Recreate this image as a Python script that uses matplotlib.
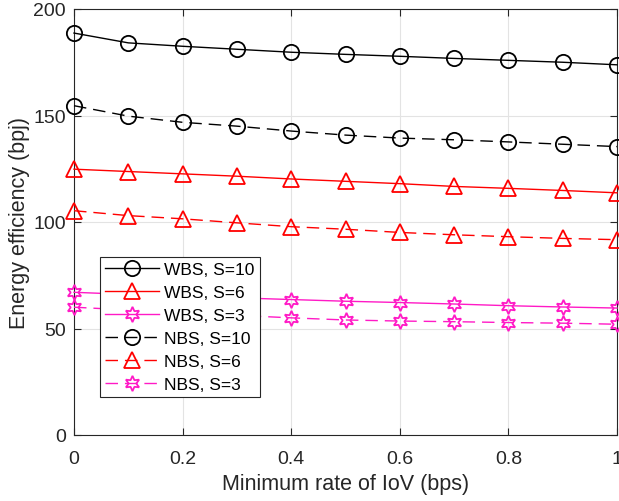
import numpy as np
import matplotlib
matplotlib.use("Agg")
import matplotlib.pyplot as plt

plt.rcParams['font.family'] = ['Liberation Sans', 'DejaVu Sans']

# data
rate = [0, 0.1, 0.2, 0.3, 0.4, 0.5, 0.6, 0.7, 0.8, 0.9, 1.0]
wbs_s10 = [188.7, 184.1, 182.5, 181.1, 179.7, 178.7, 177.8, 176.8, 175.9, 175.0, 173.8]
wbs_s6 = [124.8, 123.7, 122.6, 121.5, 120.2, 119.1, 118.0, 116.7, 115.8, 114.8, 113.7]
wbs_s3 = [67.0, 66.0, 65.1, 64.4, 63.6, 62.8, 62.2, 61.5, 60.7, 60.1, 59.6]
nbs_s10 = [154.6, 149.7, 146.8, 145.0, 142.7, 140.8, 139.4, 138.6, 137.6, 136.5, 135.4]
nbs_s6 = [105.3, 103.0, 101.5, 99.6, 97.8, 96.6, 95.1, 94.0, 93.1, 92.3, 91.7]
nbs_s3 = [60.0, 58.7, 57.5, 56.2, 55.0, 54.0, 53.5, 53.2, 52.8, 52.5, 52.0]

labels = ["WBS, S=10", "WBS, S=6", "WBS, S=3", "NBS, S=10", "NBS, S=6", "NBS, S=3"]

pink = '#FF1AC6'
star = (6, 1, 0)

fig = plt.figure(figsize=(6.19, 5.02), dpi=100)
ax = fig.add_axes([74 / 619, 66 / 502, 543 / 619, 426 / 502])

series = [
    (wbs_s10, 'k', 'o', '-'),
    (wbs_s6, 'r', '^', '-'),
    (wbs_s3, pink, star, '-'),
    (nbs_s10, 'k', 'o', '--'),
    (nbs_s6, 'r', '^', '--'),
    (nbs_s3, pink, star, '--'),
]
for (vals, c, m, ls), lab in zip(series, labels):
    line, = ax.plot(rate, vals, color=c, marker=m, linestyle=ls, lw=1.0,
                    markersize=11, markerfacecolor='none', markeredgewidth=1.3,
                    label=lab, clip_on=False, zorder=3)
    if ls == '--':
        line.set_dashes([9, 5])

ax.set_xlim(0, 1)
ax.set_ylim(0, 200)
ax.set_xticks([0, 0.2, 0.4, 0.6, 0.8, 1])
ax.set_xticklabels(['0', '0.2', '0.4', '0.6', '0.8', '1'])
ax.set_yticks([0, 50, 100, 150, 200])
ax.grid(True, color='#e3e3e3', lw=0.8)
ax.set_axisbelow(True)
for s in ax.spines.values():
    s.set_color('#262626')
    s.set_linewidth(0.8)
ax.tick_params(direction='in', top=True, right=True, length=5, width=0.8,
               colors='#262626', labelsize=14)
ax.tick_params(axis='x', pad=11)
ax.tick_params(axis='y', pad=6)
ax.set_xlabel('Minimum rate of IoV (bps)', fontsize=15.5, color='#262626', labelpad=4)
ax.set_ylabel('Energy efficiency (bpj)', fontsize=15.5, color='#262626', labelpad=2)

leg = ax.legend(loc='upper left', bbox_to_anchor=(26 / 543, 178 / 426), borderaxespad=0,
                fontsize=12.5, handlelength=3.1, handletextpad=0.3, labelspacing=0.45,
                fancybox=False, framealpha=1, edgecolor='#262626', borderpad=0.3)
leg.get_frame().set_linewidth(0.8)

fig.savefig('out.png', dpi=100)
